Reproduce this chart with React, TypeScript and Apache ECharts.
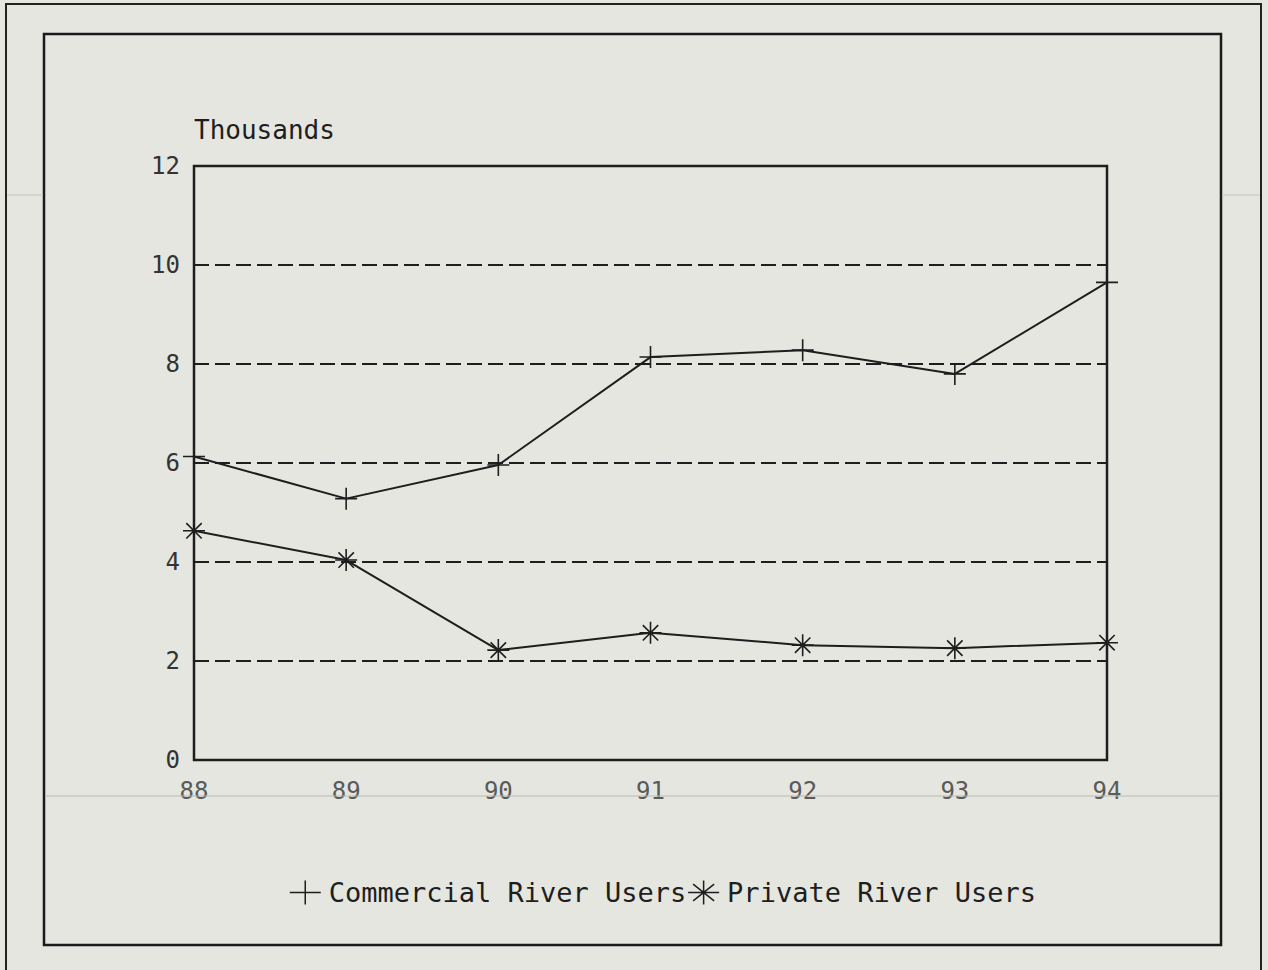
import React, { useEffect, useRef } from 'react';
import * as echarts from 'echarts';

const categories = ['88', '89', '90', '91', '92', '93', '94'];
const commercialRiverUsers = [6.13, 5.28, 5.96, 8.14, 8.28, 7.8, 9.65];
const privateRiverUsers = [4.63, 4.04, 2.22, 2.57, 2.32, 2.26, 2.37];
const seriesNames = ['Commercial River Users', 'Private River Users'];
const yMin = 0;
const yMax = 12;
const yInterval = 2;
const yAxisName = 'Thousands';

const FONT = '"DejaVu Sans Mono", monospace';
const INK = '#1e1e1e';
const plusSymbol = 'path://M0,10L20,10M10,0L10,20';
const starSymbol = 'path://M0,10L20,10M10,0L10,20M3,3L17,17M17,3L3,17';
const plusIcon = 'path://M0,11L31,11M15.5,0L15.5,22';
const starIcon = 'path://M0,13L31,13M15.5,0L15.5,26M5,4L26,22M26,4L5,22';

export default function App() {
  const ref = useRef<HTMLDivElement>(null);
  useEffect(() => {
    document.body.style.margin = '0';
    const chart = echarts.init(ref.current!, null, { renderer: 'svg' });
    chart.setOption({
      animation: false,
      backgroundColor: '#e4e6df',
      textStyle: { fontFamily: FONT },
      grid: {
        left: 194,
        right: 161,
        top: 166,
        bottom: 210,
        show: true,
        borderColor: INK,
        borderWidth: 2.5,
        backgroundColor: 'transparent',
      },
      xAxis: {
        type: 'category',
        data: categories,
        boundaryGap: false,
        axisLine: { show: false },
        axisTick: { show: false },
        splitLine: { show: false },
        axisLabel: { color: '#5a5a5a', fontSize: 24, margin: 19, fontFamily: FONT },
      },
      yAxis: {
        type: 'value',
        min: yMin,
        max: yMax,
        interval: yInterval,
        name: yAxisName,
        nameLocation: 'end',
        nameGap: 36,
        nameTextStyle: {
          align: 'left',
          verticalAlign: 'middle',
          fontSize: 26,
          color: INK,
          fontFamily: FONT,
        },
        axisLine: { show: false },
        axisTick: { show: false },
        axisLabel: { color: '#333', fontSize: 24, margin: 14, fontFamily: FONT },
        splitLine: {
          show: true,
          lineStyle: { color: INK, width: 2, type: [15, 6] },
        },
      },
      legend: {
        left: 284,
        top: 874,
        itemGap: 1,
        itemWidth: 31,
        itemHeight: 24,
        symbolKeepAspect: false,
        textStyle: { fontSize: 27, color: INK, fontFamily: FONT, padding: [0, 0, 0, 3] },
        itemStyle: { color: INK, borderColor: INK, borderWidth: 1.5 },
        data: [
          { name: seriesNames[0], icon: plusIcon },
          { name: seriesNames[1], icon: starIcon },
        ],
      },
      series: [
        {
          name: seriesNames[0],
          type: 'line',
          data: commercialRiverUsers,
          symbol: plusSymbol,
          symbolSize: 22,
          symbolKeepAspect: false,
          lineStyle: { color: INK, width: 2 },
          itemStyle: { color: INK, borderColor: INK, borderWidth: 1.6 },
          z: 5,
        },
        {
          name: seriesNames[1],
          type: 'line',
          data: privateRiverUsers,
          symbol: starSymbol,
          symbolSize: 22,
          symbolKeepAspect: false,
          lineStyle: { color: INK, width: 2 },
          itemStyle: { color: INK, borderColor: INK, borderWidth: 1.6 },
          z: 5,
        },
      ],
      graphic: [
        {
          type: 'rect',
          silent: true,
          shape: { x: 6, y: 4, width: 1255, height: 1000 },
          style: { fill: 'none', stroke: '#222', lineWidth: 2 },
        },
        {
          type: 'rect',
          silent: true,
          shape: { x: 44, y: 34, width: 1177, height: 911 },
          style: { fill: 'none', stroke: '#1a1a1a', lineWidth: 2.5 },
        },
        {
          type: 'line',
          silent: true,
          z: 100,
          shape: { x1: 45, y1: 796, x2: 1220, y2: 796 },
          style: { stroke: '#b9bbb5', lineWidth: 1 },
        },
        {
          type: 'line',
          silent: true,
          shape: { x1: 7, y1: 195, x2: 43, y2: 195 },
          style: { stroke: '#c3c5bf', lineWidth: 1 },
        },
        {
          type: 'line',
          silent: true,
          shape: { x1: 1222, y1: 195, x2: 1260, y2: 195 },
          style: { stroke: '#c3c5bf', lineWidth: 1 },
        },
      ],
    });
    return () => chart.dispose();
  }, []);
  return <div ref={ref} style={{ width: 1268, height: 970 }} />;
}
